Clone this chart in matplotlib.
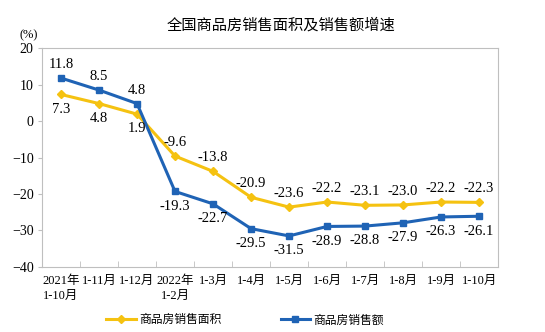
import matplotlib.pyplot as plt
import numpy as np

plt.rcParams['font.family'] = ['Liberation Serif', 'Noto Sans CJK SC']

months = ['2021年\n1-10月', '1-11月', '1-12月', '2022年\n1-2月', '1-3月', '1-4月',
          '1-5月', '1-6月', '1-7月', '1-8月', '1-9月', '1-10月']
area = [7.3, 4.8, 1.9, -9.6, -13.8, -20.9, -23.6, -22.2, -23.1, -23.0, -22.2, -22.3]
sales = [11.8, 8.5, 4.8, -19.3, -22.7, -29.5, -31.5, -28.9, -28.8, -27.9, -26.3, -26.1]

yellow = '#F5C211'
blue = '#1F63B5'
gray = '#BFBFBF'

fig = plt.figure(figsize=(5.45, 3.32), dpi=100)
ax = fig.add_axes([0.077, 0.196, 0.837, 0.659])

x = np.arange(len(months))
ax.plot(x, area, color=yellow, lw=2.2, marker='D', ms=4.5, label='商品房销售面积')
ax.plot(x, sales, color=blue, lw=2.2, marker='s', ms=4.5, label='商品房销售额')

fs = 10.5
for i, v in enumerate(area):
    if i < 3:
        ax.annotate(f'{v:.1f}', (i, v), xytext=(0, -6), textcoords='offset points',
                    ha='center', va='top', fontsize=fs)
    else:
        ax.annotate(f'{v:.1f}', (i, v), xytext=(0, 5), textcoords='offset points',
                    ha='center', va='bottom', fontsize=fs)
for i, v in enumerate(sales):
    if i < 3:
        ax.annotate(f'{v:.1f}', (i, v), xytext=(0, 5), textcoords='offset points',
                    ha='center', va='bottom', fontsize=fs)
    else:
        ax.annotate(f'{v:.1f}', (i, v), xytext=(0, -6), textcoords='offset points',
                    ha='center', va='top', fontsize=fs)

ax.set_xlim(-0.5, len(months) - 0.5)
ax.set_ylim(-40, 20)
ax.set_yticks(range(-40, 21, 10))
ax.set_xticks(x)
ax.set_xticklabels(months, fontsize=9, linespacing=1.3)
ax.set_xticks(np.arange(-0.5, len(months), 1), minor=True)
ax.tick_params(axis='x', which='major', length=0, pad=6)
ax.tick_params(axis='x', which='minor', direction='in', length=4, color=gray)
ax.tick_params(axis='y', length=3, color=gray, labelsize=10, pad=3)
for sp in ax.spines.values():
    sp.set_color(gray)
    sp.set_linewidth(0.8)

fig.text(0.515, 0.925, '全国商品房销售面积及销售额增速', ha='center', va='center',
         fontsize=11)
fig.text(0.052, 0.895, '(%)', ha='center', va='center', fontsize=9)

fig.legend(loc='center', bbox_to_anchor=(0.45, 0.035), ncol=2, frameon=False,
           fontsize=8.5, handlelength=2.5, columnspacing=5, handletextpad=0.3)

plt.savefig('out.png', dpi=100)
